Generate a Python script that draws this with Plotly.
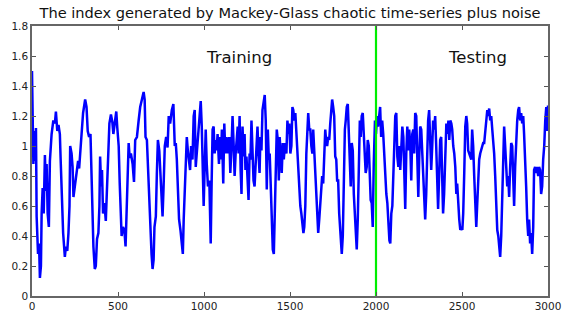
import plotly.graph_objects as go

# Time index and index value (Mackey-Glass + noise)
t = [0, 4, 8, 14, 19, 23, 27, 35, 41, 46, 52, 56, 62, 68, 75, 81, 85, 91, 98, 104,
     114, 124, 133, 139, 147, 154, 162, 166, 172, 181, 191, 197, 205, 212, 218, 222, 230, 236, 241, 249,
     259, 268, 274, 282, 290, 297, 309, 317, 324, 332, 340, 346, 351, 357, 365, 371, 378, 386, 392, 396,
     402, 407, 413, 421, 429, 436, 442, 450, 459, 467, 473, 481, 490, 496, 504, 510, 515, 521, 529, 537,
     544, 550, 556, 562, 568, 575, 585, 593,
     600, 610, 620, 629, 639, 649, 655, 660, 668, 676, 682, 687, 695, 701, 707, 712, 720, 726, 732, 740,
     745, 751, 759, 765, 772, 780, 788, 795, 803, 813, 822, 830, 836, 842, 848, 855, 863, 871, 877, 882,
     888, 894, 900, 906, 913, 919, 925, 933, 940, 946, 952, 960, 967, 973, 981, 987, 992, 998, 1004, 1010,
     1016, 1023, 1031, 1039, 1044, 1050, 1056, 1062, 1068, 1073, 1079, 1087, 1093, 1099, 1104, 1112, 1118, 1124, 1131, 1139,
     1147, 1153, 1160, 1166, 1172, 1178, 1184, 1189,
     1196, 1201, 1207, 1213, 1218, 1224, 1230, 1236, 1241, 1247, 1253, 1259, 1265, 1270, 1276, 1282, 1288, 1294, 1299, 1305,
     1311, 1317, 1323, 1328, 1334, 1340, 1348, 1353, 1359, 1365, 1371, 1377, 1382, 1388, 1394, 1400, 1406, 1411, 1417, 1423,
     1429, 1435, 1440, 1446, 1452, 1458, 1464, 1471, 1479, 1485, 1491, 1496, 1502, 1508, 1514, 1519, 1525, 1531, 1537, 1543,
     1548, 1554, 1560, 1566, 1572, 1578, 1583, 1589, 1595, 1601, 1606, 1612, 1618, 1624, 1630, 1635, 1641, 1647, 1653, 1659,
     1664, 1670, 1676, 1682, 1687, 1693, 1699, 1705, 1711, 1716, 1722, 1728, 1734, 1740, 1745, 1751, 1757, 1763, 1769, 1774,
     1780, 1786, 1792, 1798,
     1801, 1807, 1813, 1819, 1824, 1830, 1836, 1842, 1848, 1853, 1859, 1865, 1871, 1877, 1882, 1888, 1894, 1900, 1906, 1911,
     1917, 1923, 1929, 1935, 1940, 1946, 1952, 1958, 1963, 1969, 1975, 1981, 1987, 1994, 2000, 2006, 2012, 2018, 2024, 2030,
     2036, 2042, 2048, 2054, 2060, 2066, 2072, 2078, 2083, 2089, 2095, 2101, 2106, 2112, 2118, 2124, 2130, 2135, 2141, 2147,
     2153, 2159, 2164, 2170, 2176, 2182, 2188, 2193, 2199, 2205, 2211, 2217, 2222, 2228, 2234, 2240, 2246, 2251, 2257, 2263,
     2269, 2274, 2280, 2286, 2292, 2298, 2303, 2309, 2315, 2321, 2327, 2332, 2338, 2344, 2350, 2356, 2361, 2367, 2373, 2379,
     2385, 2390, 2396, 2402,
     2409, 2415, 2421, 2426, 2432, 2438, 2443, 2449, 2455, 2461, 2467, 2472, 2478, 2484, 2490, 2496, 2502, 2507, 2513, 2519,
     2525, 2530, 2536, 2542, 2548, 2554, 2559, 2565, 2571, 2577, 2583, 2588, 2594, 2600, 2606, 2612, 2617, 2623, 2629, 2635,
     2641, 2647, 2652, 2658, 2664, 2670, 2676, 2681, 2687, 2693, 2699, 2705, 2711, 2716, 2722, 2728, 2734, 2740, 2745, 2751,
     2757, 2763, 2769, 2774, 2780, 2786, 2792, 2798, 2803, 2809, 2815, 2821, 2827, 2832, 2838, 2844, 2850, 2856, 2861, 2867,
     2873, 2879, 2885, 2890, 2896, 2902, 2908, 2914, 2919, 2925, 2931, 2937, 2943, 2948, 2954, 2960, 2966, 2972, 2978, 2984,
     2990, 2995, 3000]

value = [1.50, 1.13, 0.88, 1.10, 0.90, 1.12, 0.53, 0.28, 0.35, 0.12, 0.20, 0.55, 0.72, 0.55, 0.94, 0.70, 0.88, 0.55, 0.46, 0.90,
         1.08, 1.17, 1.15, 1.23, 1.10, 1.14, 1.08, 0.93, 0.68, 0.42, 0.26, 0.33, 0.30, 0.42, 0.60, 1.00, 0.95, 0.86, 0.66, 0.73,
         0.80, 0.90, 0.85, 0.97, 1.10, 1.22, 1.31, 1.26, 1.10, 1.06, 1.08, 0.82, 0.60, 0.33, 0.18, 0.20, 0.38, 0.42, 0.60, 0.93,
         0.73, 0.84, 0.55, 0.62, 0.50, 0.75, 0.98, 1.15, 1.21, 1.16, 1.08, 1.15, 1.23, 1.12, 1.00, 0.75, 0.50, 0.40, 0.46, 0.44,
         0.33, 0.60, 0.85, 1.02, 0.92, 0.95, 0.88, 0.76,
         1.04, 1.06, 1.17, 1.26, 1.31, 1.36, 1.31, 1.06, 1.04, 0.80, 0.55, 0.40, 0.28, 0.18, 0.24, 0.46, 0.53, 0.82, 1.04, 0.97,
         0.82, 0.64, 0.53, 0.73, 1.00, 1.06, 0.99, 1.20, 1.15, 1.24, 1.28, 1.00, 1.02, 0.91, 0.71, 0.51, 0.44, 0.31, 0.28, 0.51,
         0.71, 0.82, 1.06, 0.97, 0.91, 0.84, 1.00, 0.91, 1.20, 1.24, 0.86, 1.00, 1.11, 1.17, 1.30, 1.13, 0.95, 0.60, 0.86, 1.11,
         0.88, 0.73, 0.77, 0.35, 0.73, 1.11, 1.13, 0.95, 1.04, 0.97, 1.08, 0.88, 1.06, 0.91, 1.11, 0.75, 1.15, 0.95, 1.06, 0.95,
         1.06, 0.82, 1.00, 1.20, 1.02, 0.80, 0.95, 1.06,
         1.13, 0.95, 1.20, 0.84, 0.68, 1.13, 0.93, 1.08, 0.84, 0.93, 0.77, 0.64, 0.95, 0.91, 1.17, 1.00, 0.77, 0.73, 0.86, 1.04,
         1.13, 0.95, 0.82, 1.06, 0.97, 1.24, 1.31, 1.34, 1.17, 0.71, 1.11, 0.91, 0.95, 0.68, 0.46, 0.31, 0.28, 0.51, 0.77, 1.11,
         1.04, 0.77, 1.06, 0.95, 0.82, 1.02, 0.91, 1.02, 0.95, 1.17, 1.08, 1.15, 0.95, 1.00, 1.26, 1.24, 1.17, 1.22, 1.08, 0.95,
         0.91, 0.68, 0.60, 0.55, 0.46, 0.42, 0.46, 0.60, 0.95, 1.13, 1.22, 1.11, 1.11, 1.00, 0.95, 1.11, 0.95, 0.77, 0.60, 0.51,
         0.42, 0.51, 0.64, 0.71, 0.80, 0.75, 0.95, 1.11, 1.02, 1.00, 1.06, 1.04, 1.15, 1.26, 1.31, 1.26, 1.20, 0.93, 0.91, 0.77,
         0.77, 0.55, 0.40, 0.31,
         0.28, 0.40, 0.84, 1.11, 1.17, 1.26, 1.28, 1.11, 0.91, 0.73, 1.02, 0.97, 0.68, 0.55, 0.40, 0.31, 0.51, 0.86, 1.17, 1.06,
         1.20, 1.22, 1.06, 1.00, 0.82, 0.86, 1.04, 1.00, 0.80, 0.64, 0.62, 0.46, 0.88, 1.17, 1.08, 1.20, 1.13, 1.22, 1.26, 1.06,
         1.17, 1.08, 0.91, 0.75, 0.68, 0.62, 0.44, 0.37, 0.35, 0.55, 0.60, 0.84, 1.00, 1.20, 1.22, 0.93, 0.86, 1.00, 0.84, 1.04,
         1.13, 1.06, 0.86, 0.58, 0.95, 1.13, 0.97, 1.11, 1.02, 0.77, 1.08, 1.11, 0.95, 1.22, 1.20, 1.00, 0.66, 0.91, 1.13, 1.11,
         0.95, 0.80, 0.60, 0.51, 0.68, 1.06, 1.17, 1.24, 1.06, 0.84, 1.00, 1.17, 1.11, 1.20, 1.00, 0.77, 0.58, 0.80, 1.04, 1.06,
         0.82, 0.55, 0.68, 0.91,
         1.15, 1.08, 1.17, 1.04, 1.17, 1.15, 1.11, 1.00, 0.95, 0.86, 0.68, 0.75, 0.60, 0.51, 0.44, 0.46, 0.44, 0.55, 0.82, 1.13,
         1.20, 1.15, 0.97, 0.95, 0.93, 0.91, 1.11, 1.00, 0.80, 0.60, 0.46, 0.60, 0.75, 0.91, 0.95, 0.97, 1.00, 1.02, 1.02, 1.08,
         1.17, 1.24, 1.20, 1.25, 1.17, 1.20, 1.11, 1.04, 0.95, 0.80, 0.60, 0.44, 0.40, 0.35, 0.26, 0.40, 0.73, 1.02, 1.13, 1.00,
         0.84, 0.73, 0.80, 0.66, 0.86, 1.02, 1.00, 0.77, 0.60, 0.86, 1.04, 1.17, 1.24, 1.26, 1.17, 1.22, 1.15, 1.20, 1.08, 0.95,
         0.73, 0.51, 0.40, 0.51, 0.35, 0.42, 0.28, 0.46, 0.84, 0.86, 0.82, 0.86, 0.80, 0.86, 0.84, 0.68, 0.73, 0.91, 1.00, 1.17,
         1.26, 1.10, 1.27]

x_ticks = [0, 500, 1000, 1500, 2000, 2500, 3000]
y_ticks = [0, 0.2, 0.4, 0.6, 0.8, 1.0, 1.2, 1.4, 1.6, 1.8]
y_tick_text = ["0", "0.2", "0.4", "0.6", "0.8", "1", "1.2", "1.4", "1.6", "1.8"]
split_at = 2000

fig = go.Figure()
fig.add_trace(go.Scatter(x=t, y=value, mode="lines",
                         line=dict(color="#0000FF", width=2.5), showlegend=False,
                         hoverinfo="skip"))
fig.add_trace(go.Scatter(x=[split_at, split_at], y=[0, 1.8], mode="lines",
                         line=dict(color="#00EE00", width=2.2), showlegend=False,
                         hoverinfo="skip"))

font = "DejaVu Sans, Verdana, sans-serif"
fig.update_layout(
    width=563, height=312,
    margin=dict(l=32, r=15, t=26, b=16, autoexpand=False),
    paper_bgcolor="white", plot_bgcolor="white",
    font=dict(family=font, size=11, color="#222222"),
    title=dict(text="The index generated by Mackey-Glass chaotic time-series plus noise",
               x=(32 + 548) / 2 / 563, xanchor="center", y=1 - 13 / 312, yanchor="middle",
               font=dict(family=font, size=14.6, color="#111111")),
    annotations=[
        dict(text="Training", x=1205, y=1.59, xref="x", yref="y", showarrow=False,
             font=dict(family=font, size=16.5, color="#111111")),
        dict(text="Testing", x=2590, y=1.59, xref="x", yref="y", showarrow=False,
             font=dict(family=font, size=16.5, color="#111111")),
    ],
)
fig.update_xaxes(range=[0, 3000], tickvals=x_ticks, ticks="inside", ticklen=4,
                 tickcolor="#555555", showline=True, linecolor="#666666", linewidth=1.5,
                 mirror="allticks", showgrid=False, zeroline=False, automargin=False,
                 tickfont=dict(size=10.5))
fig.update_yaxes(range=[0, 1.8], tickvals=y_ticks, ticktext=y_tick_text, ticks="inside", ticklen=4,
                 tickcolor="#555555", showline=True, linecolor="#666666", linewidth=1.5,
                 mirror="allticks", showgrid=False, zeroline=False, automargin=False,
                 tickfont=dict(size=10.5))

fig.write_html("out.html", config={"displayModeBar": False},
               post_script="document.body.style.margin='0';document.body.style.padding='0';")
